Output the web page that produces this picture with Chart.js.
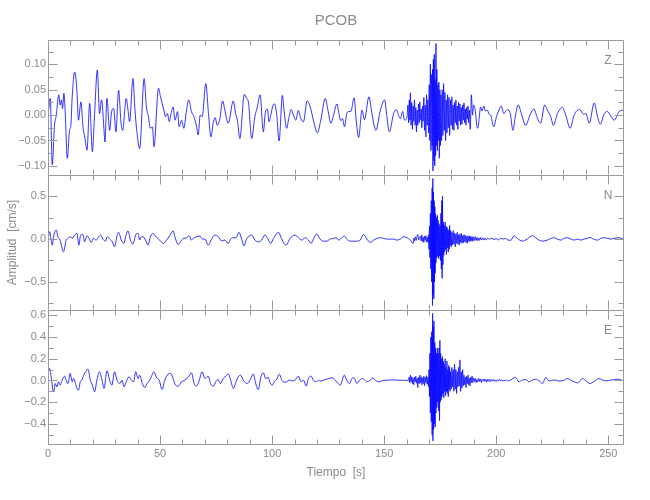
<!DOCTYPE html>
<html>
<head>
<meta charset="utf-8">
<title>PCOB</title>
<script src="https://cdn.jsdelivr.net/npm/chart.js@4.4.1/dist/chart.umd.min.js"></script>
<style>
  body { margin: 0; background: #fff; }
  #wrap { position: relative; width: 650px; height: 500px; background: #fff; }
  #wrap canvas { position: absolute; left: 0; }
</style>
</head>
<body>
<div id="wrap">
  <canvas id="chartZ" width="650" height="175" style="top:0"></canvas>
  <canvas id="chartN" width="650" height="135" style="top:175px"></canvas>
  <canvas id="chartE" width="650" height="190" style="top:310px"></canvas>
</div>
<script>
// station PCOB, velocity traces: [time s, amplitude cm/s]
const stationName = 'PCOB';
const tMax = 257;
const xTicks = [0, 50, 100, 150, 200, 250];
const zTicks = [-0.10, -0.05, 0.00, 0.05, 0.10];
const nTicks = [-0.5, 0.0, 0.5];
const eTicks = [-0.4, -0.2, 0.0, 0.2, 0.4, 0.6];

const zWave = [
  [0.2,0.007],[1.0,0.033],[1.9,-0.098],[2.9,-0.020],[3.7,0.000],[4.8,0.040],[5.4,0.020],[6.0,0.030],[6.5,0.013],[7.1,0.043],
  [7.7,0.003],[8.6,-0.085],[9.6,-0.030],[10.2,-0.020],[10.8,0.036],[11.9,0.085],[12.9,0.049],[13.6,-0.010],[14.7,0.026],[15.6,-0.023],
  [16.5,-0.046],[17.4,-0.069],[18.6,0.023],[19.8,-0.072],[20.8,0.003],[22.0,0.089],[23.0,0.003],[23.9,0.030],[25.0,-0.030],[25.4,-0.053],
  [26.3,0.033],[27.5,-0.030],[28.4,0.007],[29.3,0.013],[30.3,-0.033],[31.5,0.049],[32.6,-0.016],[33.3,-0.030],[34.9,0.033],[35.7,0.010],
  [36.4,-0.013],[37.9,0.072],[38.8,0.010],[39.6,-0.030],[40.9,-0.066],[42.9,0.072],[43.9,0.016],[44.8,-0.003],[45.7,-0.026],[46.6,-0.023],
  [47.3,-0.062],[49.3,0.053],[50.2,0.036],[51.1,0.020],[51.7,0.010],[52.4,-0.003],[53.3,0.003],[54.1,-0.013],[54.9,0.003],[55.8,0.016],
  [56.7,-0.010],[57.8,0.007],[58.5,-0.023],[59.6,-0.010],[60.6,-0.026],[61.8,0.010],[62.8,0.030],[64.0,0.007],[65.1,-0.003],[66.3,-0.023],
  [67.0,-0.039],[67.9,0.000],[68.8,-0.003],[70.4,0.062],[71.6,0.003],[72.7,-0.043],[73.7,-0.016],[74.6,-0.005],[75.5,-0.020],[76.7,-0.007],
  [77.9,0.028],[78.9,0.010],[80.4,-0.016],[82.7,0.028],[83.7,0.003],[84.5,-0.010],[85.6,-0.046],[87.6,0.041],[88.6,0.033],[89.4,0.026],
  [90.9,-0.046],[92.3,-0.003],[93.4,0.016],[94.6,0.040],[96.1,-0.033],[96.9,0.003],[97.9,0.012],[98.6,-0.013],[99.4,0.000],[100.3,0.018],
  [101.1,0.022],[102.0,0.003],[103.1,-0.051],[104.6,0.039],[105.3,0.010],[106.5,-0.026],[107.4,-0.007],[108.5,0.011],[109.5,0.000],[110.5,-0.010],
  [111.7,0.009],[112.8,-0.007],[114.0,-0.013],[115.6,0.028],[117.0,0.016],[118.4,-0.010],[120.2,-0.035],[121.7,-0.010],[123.7,0.033],[124.9,0.010],
  [126.2,-0.016],[127.4,0.000],[128.9,0.022],[129.8,0.003],[130.7,-0.011],[131.4,-0.007],[132.3,-0.023],[133.3,0.003],[134.1,0.007],[135.1,0.007],
  [136.6,0.034],[137.5,-0.010],[138.6,-0.044],[140.1,0.010],[141.2,-0.009],[143.2,0.036],[144.2,0.013],[145.3,-0.016],[146.3,-0.030],[148.3,0.010],
  [150.2,0.030],[151.2,-0.003],[152.3,-0.033],[154.2,0.003],[155.4,0.011],[156.6,-0.003],[157.2,-0.007],[158.2,0.007],[159.1,-0.010],[160.2,-0.003],
  [160.6,0.020],[160.9,-0.015],[161.2,0.030],[161.5,-0.010],[161.7,0.044],[162.0,-0.020],[162.3,0.025],[162.6,-0.028],[162.9,0.018],[163.2,-0.012],
  [163.5,0.030],[163.8,-0.020],[164.1,0.015],[164.4,-0.033],[164.7,0.010],[165.0,-0.020],[165.3,0.022],[165.6,-0.015],[165.9,0.026],[166.2,-0.010],
  [166.5,0.012],[166.8,-0.025],[167.1,0.018],[167.4,-0.012],[167.7,0.035],[168.0,-0.030],[168.3,0.020],[168.6,-0.043],[168.9,0.040],[169.2,-0.020],
  [169.5,0.030],[169.8,-0.035],[170.1,0.060],[170.35,-0.050],[170.6,0.100],[170.85,-0.070],[171.1,0.080],[171.4,-0.060],[171.6,0.090],[171.75,-0.110],
  [171.95,0.110],[172.15,-0.090],[172.35,0.120],[172.55,-0.100],[172.75,0.070],[172.95,-0.080],[173.1,0.141],[173.3,-0.060],[173.5,0.090],[173.75,-0.070],
  [173.95,0.060],[174.15,-0.050],[174.4,0.065],[174.6,-0.085],[174.85,0.050],[175.1,-0.060],[175.35,0.040],[175.6,-0.050],[175.9,0.050],[176.2,-0.040],
  [176.5,0.062],[176.8,-0.030],[177.1,0.045],[177.4,-0.050],[177.7,0.030],[178.0,-0.035],[178.3,0.040],[178.6,-0.025],[178.9,0.035],[179.2,-0.040],
  [179.6,0.030],[179.9,-0.020],[180.2,0.036],[180.5,-0.028],[180.8,0.020],[181.1,-0.030],[181.4,0.025],[181.7,-0.015],[182.0,0.030],[182.3,-0.020],
  [182.6,0.018],[182.9,-0.028],[183.2,0.025],[183.5,-0.012],[183.8,0.022],[184.1,-0.020],[184.4,0.015],[184.7,-0.018],[185.0,0.020],[185.3,-0.010],
  [185.6,0.024],[185.9,-0.015],[186.2,0.012],[186.5,-0.020],[186.8,0.015],[187.1,-0.008],[187.4,0.018],[187.7,-0.015],[188.0,0.010],[188.4,-0.028],
  [188.9,0.040],[189.4,0.000],[189.9,0.020],[190.7,0.007],[191.3,-0.020],[191.8,-0.026],[192.3,-0.010],[193.0,0.016],[193.6,0.008],[194.5,0.018],
  [195.2,0.008],[196.0,0.010],[196.8,0.002],[197.5,0.000],[198.9,-0.023],[200.1,-0.003],[201.2,0.010],[202.2,0.018],[203.4,0.003],[204.1,0.007],
  [205.2,0.011],[206.4,0.000],[207.4,-0.030],[208.6,0.000],[209.8,0.020],[211.2,0.003],[213.1,-0.020],[215.3,0.003],[216.8,0.012],[218.3,-0.005],
  [219.8,-0.016],[221.6,0.020],[222.8,0.010],[224.3,-0.003],[225.5,-0.020],[227.3,0.003],[229.5,0.015],[231.0,0.000],[233.0,-0.026],[234.7,0.000],
  [237.3,0.011],[238.9,0.002],[240.0,0.003],[241.5,-0.016],[243.7,0.024],[245.2,-0.003],[246.4,-0.018],[248.2,0.003],[249.7,0.007],[251.1,-0.002],
  [252.6,-0.010],[254.8,0.007],[256.8,0.010]
];

const nWave = [
  [0.2,0.028],[0.7,0.087],[1.4,-0.012],[1.9,-0.071],[2.6,0.047],[3.7,0.106],[4.4,0.028],[5.4,-0.012],[6.9,-0.150],[8.1,-0.012],
  [8.9,0.008],[9.9,0.028],[10.8,0.008],[11.9,0.047],[12.9,0.067],[13.8,-0.071],[14.5,0.039],[15.6,0.055],[16.3,-0.032],[17.4,0.039],
  [18.3,0.008],[19.3,-0.039],[20.3,0.008],[21.5,-0.012],[22.7,0.028],[23.5,0.047],[24.5,0.000],[25.6,-0.024],[26.5,0.028],[27.5,0.000],
  [28.7,-0.032],[29.7,-0.091],[30.8,0.039],[31.5,0.079],[32.7,-0.012],[33.8,-0.051],[34.9,0.055],[35.7,0.095],[36.8,-0.012],[37.9,-0.059],
  [39.1,0.047],[40.2,0.067],[40.9,-0.012],[41.7,0.028],[42.4,0.028],[43.5,-0.012],[44.6,-0.071],[45.7,0.028],[46.9,0.067],[48.1,0.028],
  [49.1,0.008],[50.2,-0.024],[51.4,-0.051],[52.9,-0.012],[54.3,0.039],[55.8,0.095],[56.9,0.000],[58.1,-0.063],[59.6,-0.012],[60.6,0.008],
  [61.8,0.016],[63.0,0.039],[64.0,-0.012],[64.8,0.008],[66.3,0.028],[67.8,0.035],[68.9,0.000],[70.0,0.000],[71.5,-0.071],[73.0,0.000],
  [74.5,0.047],[76.0,0.028],[77.4,-0.020],[78.9,-0.012],[80.4,-0.051],[81.5,0.000],[82.7,0.016],[83.9,0.016],[85.2,0.079],[86.4,0.000],
  [87.4,-0.079],[88.6,0.000],[90.9,0.047],[92.3,-0.012],[93.8,-0.032],[95.3,-0.012],[96.8,0.047],[98.0,0.008],[99.4,-0.051],[100.6,0.008],
  [102.8,0.079],[104.3,0.000],[106.2,-0.071],[108.0,0.008],[110.2,0.047],[111.7,0.016],[113.2,-0.012],[114.7,0.016],[116.2,-0.012],[117.4,-0.051],
  [118.4,0.000],[119.9,0.059],[121.4,0.000],[122.9,-0.024],[124.4,-0.024],[125.9,0.000],[127.4,0.008],[128.6,0.016],[129.6,-0.012],[130.8,0.008],
  [132.3,0.035],[133.3,0.000],[134.8,-0.024],[136.3,-0.024],[137.8,-0.024],[139.3,-0.012],[140.8,0.055],[142.3,0.000],[143.8,-0.039],[145.3,-0.012],
  [146.8,0.008],[148.3,0.016],[149.8,0.008],[151.2,0.000],[152.7,0.000],[154.2,0.000],[155.7,-0.012],[157.2,0.000],[158.7,0.028],[160.2,0.016],
  [161.7,-0.012],[162.9,-0.051],[163.3,0.010],[163.6,-0.020],[163.9,0.028],[164.3,-0.015],[164.6,0.030],[165.0,0.055],[165.4,-0.010],[165.8,0.025],
  [166.2,0.030],[166.5,-0.020],[166.8,0.047],[167.1,-0.030],[167.4,0.020],[167.7,-0.040],[168.0,0.035],[168.3,-0.015],[168.6,0.040],[168.9,-0.035],
  [169.2,0.020],[169.5,-0.040],[169.8,0.050],[170.0,-0.120],[170.2,0.150],[170.4,-0.220],[170.6,0.300],[170.8,-0.350],[171.0,0.450],[171.2,-0.500],
  [171.4,0.600],[171.55,-0.780],[171.7,0.710],[171.85,-0.650],[172.0,0.550],[172.15,-0.700],[172.3,0.450],[172.45,-0.500],[172.6,0.380],[172.75,-0.400],
  [172.9,0.300],[173.1,-0.280],[173.3,0.250],[173.5,-0.220],[173.7,0.280],[173.9,-0.200],[174.1,0.220],[174.3,-0.230],[174.5,0.180],[174.7,-0.200],
  [174.9,0.150],[175.1,-0.250],[175.3,0.300],[175.5,-0.350],[175.7,0.450],[175.85,-0.460],[176.0,0.500],[176.2,-0.300],[176.4,0.200],[176.6,-0.190],
  [176.8,0.160],[177.0,-0.150],[177.2,0.200],[177.4,-0.120],[177.6,0.150],[177.8,-0.180],[178.0,0.140],[178.2,-0.100],[178.4,0.120],[178.6,-0.150],
  [178.8,0.100],[179.0,-0.120],[179.2,0.160],[179.4,-0.080],[179.6,0.100],[179.9,-0.090],[180.2,0.080],[180.5,-0.070],[180.8,0.100],[181.1,-0.060],
  [181.4,0.070],[181.7,-0.090],[182.0,0.060],[182.3,-0.050],[182.6,0.080],[182.9,-0.060],[183.2,0.050],[183.5,-0.070],[183.8,0.060],[184.1,-0.040],
  [184.4,0.067],[184.7,-0.050],[185.0,0.040],[185.3,-0.045],[185.6,0.050],[185.9,-0.030],[186.2,0.045],[186.5,-0.040],[186.8,0.030],[187.1,-0.050],
  [187.4,0.040],[187.7,-0.025],[188.0,0.035],[188.3,-0.030],[188.6,0.030],[188.9,-0.020],[189.2,0.030],[189.5,-0.025],[189.8,0.025],[190.2,-0.020],
  [190.6,0.030],[191.0,-0.015],[191.4,0.020],[191.8,-0.020],[192.2,0.015],[192.6,-0.015],[193.0,0.020],[193.5,-0.010],[194.0,0.015],[194.5,-0.012],
  [195.0,0.012],[195.5,-0.010],[196.0,0.008],[197.0,0.000],[198.0,0.010],[199.0,-0.005],[200.0,0.005],[201.0,-0.010],[202.0,0.012],[203.0,0.000],
  [204.0,0.008],[205.0,-0.008],[206.5,-0.015],[207.9,0.039],[209.4,0.008],[211.6,-0.024],[213.8,0.000],[216.1,0.039],[218.3,0.000],[220.5,-0.024],
  [222.8,-0.012],[224.3,0.008],[225.8,0.016],[227.3,0.000],[228.8,-0.012],[230.2,0.008],[231.7,0.016],[233.2,0.000],[234.7,-0.012],[236.2,0.000],
  [237.7,-0.012],[239.2,0.000],[240.7,0.008],[241.9,0.020],[243.4,0.000],[245.2,-0.012],[246.6,0.008],[248.1,0.016],[249.6,0.008],[251.1,0.000],
  [252.6,0.008],[254.8,0.016],[256.8,0.000]
];

const eWave = [
  [0.2,0.080],[0.7,0.111],[1.4,0.034],[2.2,-0.089],[2.6,-0.105],[3.2,-0.028],[4.0,-0.059],[4.7,-0.012],[5.4,-0.043],[6.3,0.003],
  [7.4,0.040],[8.1,0.003],[8.9,-0.028],[9.9,0.065],[10.8,-0.012],[11.4,0.018],[12.3,-0.028],[12.9,-0.074],[13.6,-0.089],[14.4,-0.012],
  [15.1,0.003],[15.9,0.049],[16.8,0.080],[17.8,0.105],[18.9,0.003],[19.8,-0.043],[20.8,-0.105],[21.8,0.003],[23.0,0.080],[24.1,0.003],
  [25.0,-0.074],[26.3,0.089],[27.5,0.003],[28.5,-0.043],[29.7,0.080],[30.8,0.003],[32.0,-0.028],[33.0,0.003],[33.9,-0.059],[34.9,-0.012],
  [36.1,0.034],[37.2,0.003],[38.2,-0.012],[39.1,0.080],[40.2,0.018],[40.9,0.049],[42.1,-0.028],[43.2,-0.065],[44.2,-0.028],[45.4,0.003],
  [46.1,0.034],[47.2,0.080],[48.4,0.028],[49.6,0.003],[50.9,-0.083],[52.1,0.003],[53.6,0.059],[54.8,0.065],[55.8,0.018],[56.9,-0.043],
  [58.1,-0.052],[59.6,-0.012],[61.0,0.003],[62.5,0.028],[64.0,0.071],[65.2,-0.028],[66.3,-0.052],[67.3,-0.012],[68.8,0.080],[70.0,0.018],
  [71.5,0.040],[72.5,-0.028],[73.7,-0.052],[74.9,-0.012],[75.9,0.009],[76.9,-0.028],[78.2,0.018],[79.4,0.040],[80.4,0.059],[81.5,0.003],
  [82.7,-0.074],[83.9,-0.012],[84.9,0.034],[86.0,0.049],[87.1,0.003],[88.2,-0.022],[88.9,-0.028],[90.1,0.003],[91.6,0.059],[92.6,-0.022],
  [93.8,-0.083],[95.0,0.034],[96.1,0.071],[97.1,0.018],[98.3,0.028],[99.1,-0.022],[100.1,-0.043],[100.9,-0.012],[102.0,0.009],[103.2,0.059],
  [104.3,0.003],[105.3,-0.015],[106.5,-0.012],[107.6,0.003],[108.8,-0.003],[110.2,0.003],[111.7,0.040],[112.9,-0.012],[114.0,0.003],[115.2,-0.052],
  [116.2,0.018],[117.4,0.040],[118.4,0.003],[119.6,-0.012],[120.7,0.003],[121.4,-0.006],[122.9,0.003],[125.2,0.018],[127.1,0.025],[128.1,0.003],
  [129.2,-0.022],[130.4,-0.043],[132.2,0.049],[133.3,0.003],[134.5,-0.028],[135.6,0.018],[136.6,0.025],[137.8,-0.028],[139.0,0.003],[140.3,0.018],
  [141.3,0.003],[142.3,-0.012],[143.8,0.003],[145.0,0.025],[146.0,0.003],[147.5,-0.012],[149.0,-0.003],[150.5,0.003],[152.0,0.003],[153.5,0.006],
  [155.7,0.003],[157.9,0.003],[159.4,0.000],[160.9,0.003],
  [161.1,0.030],[161.4,-0.020],[161.7,0.050],[162.0,-0.015],[162.3,0.035],[162.6,-0.030],[162.9,0.020],[163.2,-0.040],[163.5,0.030],[163.8,-0.010],
  [164.1,0.040],[164.4,-0.025],[164.7,0.020],[165.0,-0.065],[165.3,0.030],[165.6,-0.030],[165.9,0.050],[166.2,-0.020],[166.5,0.035],[166.8,-0.040],
  [167.1,0.025],[167.4,-0.030],[167.7,0.040],[168.0,-0.050],[168.3,0.030],[168.6,-0.020],[168.9,0.045],[169.2,-0.035],[169.5,0.030],[169.8,-0.060],
  [170.0,0.100],[170.2,-0.150],[170.4,0.250],[170.6,-0.300],[170.8,0.400],[171.0,-0.380],[171.2,0.450],[171.4,-0.500],[171.6,0.620],[171.75,-0.557],
  [171.9,0.500],[172.05,-0.450],[172.2,0.550],[172.4,-0.400],[172.6,0.350],[172.75,-0.430],[172.9,0.300],[173.1,-0.300],[173.3,0.250],[173.5,-0.250],
  [173.7,0.300],[173.9,-0.200],[174.1,0.250],[174.3,-0.280],[174.5,0.300],[174.7,-0.370],[174.85,0.370],[175.0,-0.200],[175.2,0.250],[175.4,-0.180],
  [175.6,0.200],[175.8,-0.150],[176.0,0.220],[176.2,-0.120],[176.4,0.180],[176.6,-0.160],[176.8,0.150],[177.0,-0.100],[177.2,0.200],[177.4,-0.140],
  [177.6,0.120],[177.8,-0.100],[178.0,0.180],[178.2,-0.120],[178.4,0.100],[178.6,-0.150],[178.8,0.140],[179.0,-0.080],[179.2,0.120],[179.4,-0.100],
  [179.6,0.080],[179.9,-0.080],[180.2,0.120],[180.5,-0.060],[180.8,0.100],[181.1,-0.100],[181.4,0.150],[181.7,-0.080],[182.0,0.100],[182.3,-0.120],
  [182.6,0.080],[182.9,-0.060],[183.2,0.120],[183.5,-0.050],[183.8,0.190],[184.1,-0.100],[184.4,0.080],[184.7,-0.070],[185.0,0.100],[185.3,-0.050],
  [185.6,0.050],[185.9,-0.040],[186.2,0.030],[186.5,-0.065],[186.8,0.040],[187.1,-0.030],[187.4,0.050],[187.7,-0.040],[188.0,0.020],[188.3,-0.050],
  [188.6,0.030],[188.9,-0.020],[189.2,0.040],[189.5,-0.020],[189.8,0.025],[190.2,-0.010],[190.6,0.020],[191.0,-0.020],[191.4,0.010],[191.8,-0.015],
  [192.2,0.020],[192.6,-0.010],[193.0,0.015],[193.4,-0.020],[193.8,0.010],[194.2,-0.005],[194.6,0.015],[195.0,-0.010],[195.4,0.010],[195.8,-0.015],
  [196.2,0.012],[196.6,-0.008],[197.0,0.010],[197.4,-0.012],[197.8,0.008],[198.2,-0.005],[198.6,0.010],[199.0,-0.008],[199.5,0.006],[200.0,-0.010],
  [200.5,0.008],[201.0,-0.006],[201.5,0.010],[202.0,-0.005],[202.5,0.006],[203.0,-0.008],[203.5,0.004],[204.0,-0.006],[204.5,0.005],[205.0,-0.003],
  [206.0,0.000],[208.6,0.028],[210.1,-0.012],[211.6,0.003],[213.1,0.009],[214.6,-0.012],[216.1,0.003],[217.6,0.012],[219.1,-0.003],[220.6,-0.028],
  [222.1,0.028],[223.6,-0.006],[225.0,0.003],[226.5,0.003],[228.0,-0.006],[230.3,0.003],[231.7,0.018],[233.2,0.003],[234.7,-0.012],[236.2,-0.022],
  [238.5,0.018],[240.0,-0.003],[241.9,-0.028],[243.4,-0.012],[245.9,0.018],[247.4,0.003],[248.9,-0.003],[251.1,0.003],[254.1,0.012],[256.8,-0.003]
];

const textColor = '#8a8a8a';
const frameColor = '#9a9a9a';
const lineColor = '#0000ff';
const labelFont = "'Liberation Sans', Arial, sans-serif";
const tickFont = { family: labelFont, size: 11 };

// box, inward ticks and the panel texts
const panelFrame = {
  id: 'panelFrame',
  afterDraw(chart, args, opts) {
    const { ctx, chartArea: a } = chart;
    const x = chart.scales.x, y = chart.scales.y;
    const L = a.left + 0.5, R = a.right - 0.5, T = a.top + 0.5, B = a.bottom - 0.5;
    ctx.save();
    ctx.strokeStyle = frameColor;
    ctx.lineWidth = 1;
    ctx.beginPath();
    ctx.moveTo(L, B); ctx.lineTo(L, T); ctx.lineTo(R, T); ctx.lineTo(R, B);
    if (opts.bottomEdge) { ctx.moveTo(L, B); ctx.lineTo(R, B); }
    for (let v = 0; v <= x.max; v += 10) {
      const px = Math.round(x.getPixelForValue(v)) + 0.5;
      const len = xTicks.includes(v) ? 9 : 5;
      ctx.moveTo(px, T); ctx.lineTo(px, T + len);
      ctx.moveTo(px, B); ctx.lineTo(px, B - len);
    }
    const step = opts.minorStep;
    for (let k = Math.ceil(y.min / step); k * step <= y.max; k++) {
      const v = k * step;
      const py = Math.round(y.getPixelForValue(v)) + 0.5;
      const major = opts.majors.some(m => Math.abs(m - v) < step / 10);
      const len = major ? 9 : 5;
      ctx.moveTo(L, py); ctx.lineTo(L + len, py);
      ctx.moveTo(R, py); ctx.lineTo(R - len, py);
    }
    ctx.stroke();

    ctx.fillStyle = textColor;
    ctx.textAlign = 'center';
    ctx.textBaseline = 'middle';
    ctx.font = '12px ' + labelFont;
    ctx.fillText(opts.label, a.right - 16, a.top + 21);
    const cx = (a.left + a.right) / 2;
    if (opts.title) {
      ctx.font = '15px ' + labelFont;
      ctx.fillText(opts.title, cx, a.top - 19);
    }
    if (opts.xTitle) {
      ctx.font = '12px ' + labelFont;
      ctx.fillText(opts.xTitle, cx, a.bottom + 28);
    }
    if (opts.yTitle) {
      ctx.save();
      ctx.translate(13, (a.top + a.bottom) / 2);
      ctx.rotate(-Math.PI / 2);
      ctx.font = '12px ' + labelFont;
      ctx.fillText(opts.yTitle, 0, 0);
      ctx.restore();
    }
    ctx.restore();
  }
};

function fmt(v, digits) {
  return v.toFixed(digits).replace('-', '\u2212');
}

function makePanel(id, wave, yMin, yMax, yTicks, digits, minorStep, label, more) {
  const showX = !!more.showX;
  return new Chart(document.getElementById(id), {
    type: 'line',
    data: {
      datasets: [{
        data: wave.map(p => ({ x: p[0], y: p[1] })),
        borderColor: lineColor,
        borderWidth: 0.8,
        pointRadius: 0,
        cubicInterpolationMode: 'monotone'
      }]
    },
    options: {
      responsive: false,
      animation: false,
      events: [],
      layout: { padding: { top: more.top || 0, right: 26, bottom: 0, left: 0 }, autoPadding: false },
      plugins: {
        legend: { display: false },
        tooltip: { enabled: false },
        panelFrame: {
          label: label,
          minorStep: minorStep,
          majors: yTicks,
          bottomEdge: showX,
          title: more.title,
          xTitle: more.xTitle,
          yTitle: more.yTitle
        }
      },
      scales: {
        x: {
          type: 'linear',
          min: 0,
          max: tMax,
          display: showX,
          afterBuildTicks: s => { s.ticks = xTicks.map(v => ({ value: v })); },
          afterFit: s => {
            s.height = showX ? 55 : 0;
            s.paddingLeft = 0;
            s.paddingRight = 0;
          },
          grid: { display: false, drawTicks: false },
          border: { display: false },
          ticks: { font: tickFont, color: textColor, padding: 2, maxRotation: 0, autoSkip: false }
        },
        y: {
          min: yMin,
          max: yMax,
          afterBuildTicks: s => { s.ticks = yTicks.map(v => ({ value: v })); },
          afterFit: s => { s.width = 48; s.paddingTop = 0; s.paddingBottom = 0; },
          grid: { display: false, drawTicks: false },
          border: { display: false },
          ticks: { font: tickFont, color: textColor, padding: 2, callback: v => fmt(v, digits) }
        }
      }
    },
    plugins: [panelFrame]
  });
}

makePanel('chartZ', zWave, -0.118, 0.148, zTicks, 2, 0.025, 'Z', { top: 40, title: stationName });
makePanel('chartN', nWave, -0.83, 0.75, nTicks, 1, 0.25, 'N', { yTitle: 'Amplitud  [cm/s]' });
makePanel('chartE', eWave, -0.595, 0.65, eTicks, 1, 0.1, 'E', { showX: true, xTitle: 'Tiempo  [s]' });
</script>
</body>
</html>
